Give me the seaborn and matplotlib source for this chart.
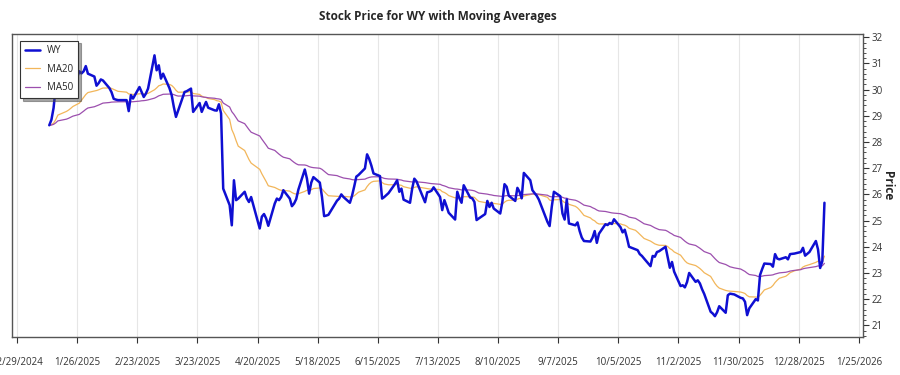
import numpy as np
import pandas as pd
import matplotlib
matplotlib.use("Agg")
import matplotlib.pyplot as plt
from matplotlib.ticker import MultipleLocator
import seaborn as sns

# ---------------- data ----------------
ticker = "WY"
start_date = "2025-01-13"
end_date = "2026-01-09"
market_holidays = ["2025-01-20", "2025-02-17", "2025-04-18", "2025-05-26",
                   "2025-06-19", "2025-07-04", "2025-09-01", "2025-11-27",
                   "2025-12-25", "2026-01-01"]

wy_close = [
    28.64, 28.85, 29.30, 30.10, 30.70,
    30.50, 29.72, 29.90, 30.04,
    30.70, 30.62, 30.70, 30.90, 30.61,
    30.50, 30.15, 30.25, 30.39, 30.35,
    30.06, 29.90, 29.65, 29.62, 29.60,
    29.60, 29.18, 29.79, 29.66,
    30.10, 29.91, 29.72, 29.85, 30.04,
    31.31, 30.74, 30.93, 30.42, 30.61,
    30.05, 29.79, 29.34, 28.96, 29.20,
    29.91, 29.94, 29.99, 30.04, 29.15,
    29.49, 29.15, 29.35, 29.53, 29.31,
    29.21, 29.20, 29.44, 29.09, 26.22,
    25.59, 24.82, 26.54, 25.78, 25.84,
    26.10, 25.85, 25.71, 25.90,
    24.70, 25.15, 25.25, 25.08, 24.80,
    25.65, 25.84, 25.78, 25.90, 26.16,
    25.84, 25.55, 25.65, 25.82, 26.18,
    26.95, 26.60, 26.03, 26.45, 26.66,
    26.45, 25.90, 25.17, 25.19, 25.22,
    25.76, 25.84, 26.00, 25.90,
    25.68, 25.95, 26.30, 26.68, 26.74,
    26.99, 27.53, 27.35, 27.10, 26.80,
    26.70, 25.84, 25.90, 26.05,
    26.40, 26.54, 26.10, 26.22, 25.80,
    25.68, 26.22, 26.60, 26.50,
    25.70, 26.08, 26.10, 26.14, 26.27,
    25.90, 25.40, 25.78, 25.55, 25.30,
    25.04, 26.10, 25.85, 25.68, 26.35,
    25.88, 25.85, 25.71, 25.02, 25.08,
    25.25, 25.75, 25.52, 25.68, 25.46,
    25.27, 25.71, 26.39, 26.29, 25.95,
    25.75, 26.25, 26.10, 25.85, 26.82,
    26.54, 26.16, 26.05, 25.95, 25.80,
    24.95, 24.79, 25.52, 26.10,
    25.93, 25.27, 25.04, 25.81, 24.89,
    24.82, 24.93, 24.60, 24.35, 24.22,
    24.20, 24.35, 24.60, 24.15, 24.50,
    24.86, 24.83, 24.91, 24.87, 25.05,
    24.75, 24.55, 24.65, 24.35, 24.00,
    23.90, 23.87, 23.72, 23.65, 23.55,
    23.26, 23.65, 23.62, 23.80, 23.83,
    24.00, 23.60, 23.20, 23.42, 23.05,
    22.50, 22.53, 22.45, 22.65, 23.00,
    22.66, 22.72, 22.60, 22.38, 22.20,
    21.52, 21.45, 21.35, 21.50, 21.73,
    21.48, 22.15, 22.21, 22.18,
    22.05, 22.03, 21.90, 21.39, 21.65,
    22.00, 21.95, 22.92, 23.15, 23.36,
    23.34, 23.24, 23.72, 23.55, 23.52,
    23.60, 23.52, 23.72, 23.74,
    23.80, 23.96, 23.66, 23.80,
    24.22, 23.90, 23.19, 23.45, 25.68,
]

ma_windows = [20, 50]
tick_start = "2024-12-29"
tick_count = 15
tick_step_days = 28

# ---------------- build frame ----------------
dates = pd.bdate_range(start_date, end_date)
dates = dates[~dates.isin(pd.to_datetime(market_holidays))]
n = min(len(dates), len(wy_close))
df = pd.DataFrame({"Date": dates[:n], ticker: wy_close[:n]})
for w in ma_windows:
    df[f"MA{w}"] = df[ticker].ewm(span=w, adjust=False).mean()

# ---------------- plot ----------------
sns.set_theme(style="white")
plt.rcParams["font.family"] = ["Open Sans", "DejaVu Sans"]

fig, ax = plt.subplots(figsize=(9, 3.75), dpi=100)
fig.subplots_adjust(left=0.013, right=0.959, top=0.909, bottom=0.101)

sns.lineplot(data=df, x="Date", y=ticker, ax=ax, color="#0f0fd2",
             linewidth=1.8, label=ticker, zorder=4)
sns.lineplot(data=df, x="Date", y="MA20", ax=ax, color="#f2b65a",
             linewidth=0.9, label="MA20", zorder=3)
sns.lineplot(data=df, x="Date", y="MA50", ax=ax, color="#9c4fae",
             linewidth=0.9, label="MA50", zorder=3)

ticks = pd.date_range(tick_start, periods=tick_count, freq=f"{tick_step_days}D")
ax.set_xticks(ticks)
ax.set_xticklabels([f"{d.month}/{d.day}/{d.year}" for d in ticks],
                   fontsize=7, color="#333333")
ax.set_xlim(pd.Timestamp("2024-12-26 12:00"), pd.Timestamp("2026-01-27"))
ax.set_ylim(20.55, 32.12)

ax.yaxis.tick_right()
ax.yaxis.set_label_position("right")
ax.yaxis.set_major_locator(MultipleLocator(1))
ax.yaxis.set_minor_locator(MultipleLocator(0.2))
ax.tick_params(axis="y", which="major", direction="out", length=4, width=0.8,
               labelsize=7, labelcolor="#333333", color="#333333", right=True,
               pad=2)
ax.tick_params(axis="y", which="minor", direction="out", length=2, width=0.6,
               color="#333333", right=True)
ax.tick_params(axis="x", which="major", direction="out", length=4, width=0.8,
               color="#333333", bottom=True, pad=10)
ax.set_ylabel("Price", rotation=270, fontsize=8.5, fontweight="bold",
              labelpad=8)
ax.set_xlabel("")

ax.grid(axis="x", color="#e6e6e6", linewidth=0.8)
ax.grid(axis="y", visible=False)
for s in ax.spines.values():
    s.set_color("#555555")
    s.set_linewidth(1.0)

ax.set_title("Stock Price for WY with Moving Averages", fontsize=8.5,
             fontweight="bold", pad=10)

leg = ax.legend(loc="upper left", frameon=True, fancybox=False, shadow=True,
                edgecolor="#333333", fontsize=7, handlelength=1.6,
                borderpad=0.5, labelspacing=0.75, handletextpad=0.7,
                bbox_to_anchor=(0.004, 0.995))
leg.get_frame().set_linewidth(0.8)

fig.savefig("out.png", dpi=100)
